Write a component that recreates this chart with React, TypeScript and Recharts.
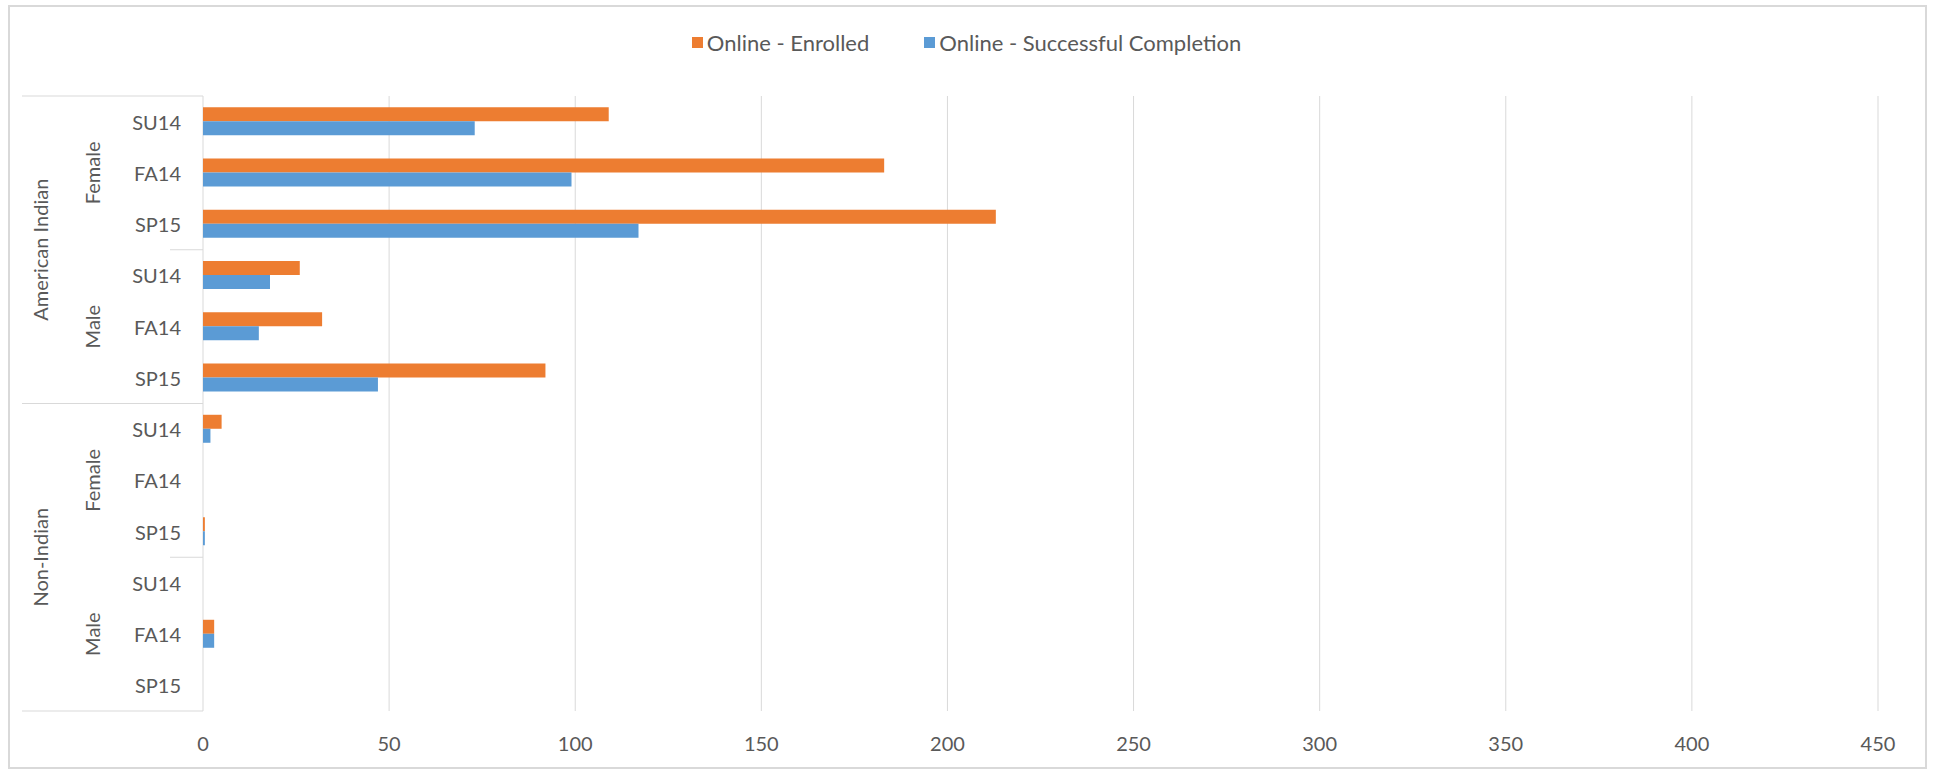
import { BarChart, Bar, XAxis, YAxis, CartesianGrid } from "recharts";

const groups = ["American Indian", "Non-Indian"];
const genders = ["Female", "Male"];
const semesters = ["SU14", "FA14", "SP15"];

// one value per row, in the order group > gender > semester
const enrolled = [109, 183, 213, 26, 32, 92, 5, 0, 0.5, 0, 3, 0];
const completed = [73, 99, 117, 18, 15, 47, 2, 0, 0.5, 0, 3, 0];

const xTicks = [0, 50, 100, 150, 200, 250, 300, 350, 400, 450];

const series = [
  { key: "enrolled", name: "Online - Enrolled", color: "#ED7D31" },
  { key: "completed", name: "Online - Successful Completion", color: "#5B9BD5" },
];

const W = 1933;
const H = 770;
const MARGIN = { top: 96, right: 55, bottom: 19, left: 13 };
const Y_AXIS_W = 190;
const X_AXIS_H = 40;
const AXIS_X = MARGIN.left + Y_AXIS_W;
const PLOT_H = H - MARGIN.top - MARGIN.bottom - X_AXIS_H;

const FONT = "Lato, 'Open Sans', sans-serif";
const TEXT = "#595959";
const LINE = "#d9d9d9";

const rows = groups.flatMap((g) =>
  genders.flatMap((s) => semesters.map((t) => ({ group: g, gender: s, semester: t })))
);
const data = rows.map((r, i) => ({
  id: i,
  ...r,
  enrolled: enrolled[i],
  completed: completed[i],
}));

const band = PLOT_H / rows.length;
const perGroup = genders.length * semesters.length;

function CategoryTick(props: any) {
  const { y, payload } = props;
  const i = Number(payload.value);
  const r = rows[i];
  const out: any[] = [];

  if (i % perGroup === 0) {
    out.push(<line key="g" x1={22} x2={AXIS_X} y1={y - band / 2} y2={y - band / 2} stroke={LINE} />);
  } else if (i % semesters.length === 0) {
    out.push(<line key="s" x1={170} x2={AXIS_X} y1={y - band / 2} y2={y - band / 2} stroke={LINE} />);
  }
  if (i === rows.length - 1) {
    out.push(<line key="b" x1={22} x2={AXIS_X} y1={y + band / 2} y2={y + band / 2} stroke={LINE} />);
  }
  // gender label sits on the middle semester row
  if (i % semesters.length === 1) {
    out.push(
      <text key="gl" x={92} y={y} transform={`rotate(-90 92 ${y})`} textAnchor="middle"
        dominantBaseline="central" fill={TEXT} fontSize={20} fontFamily={FONT}>
        {r.gender}
      </text>
    );
  }
  // group label sits between the two gender blocks
  if (i % perGroup === perGroup / 2 - 1) {
    const cy = y + band / 2;
    out.push(
      <text key="el" x={40} y={cy} transform={`rotate(-90 40 ${cy})`} textAnchor="middle"
        dominantBaseline="central" fill={TEXT} fontSize={20} fontFamily={FONT}>
        {r.group}
      </text>
    );
  }
  out.push(
    <text key="t" x={AXIS_X - 22} y={y} textAnchor="end" dominantBaseline="central"
      fill={TEXT} fontSize={20} fontFamily={FONT}>
      {r.semester}
    </text>
  );
  return <g>{out}</g>;
}

export default function App() {
  return (
    <div style={{ position: "absolute", left: 0, top: 0, width: W, height: H, background: "#fff" }}>
      <div
        style={{
          position: "absolute",
          left: 8,
          top: 5,
          width: 1915,
          height: 760,
          border: `2px solid ${LINE}`,
        }}
      />
      <div
        style={{
          position: "absolute",
          top: 29,
          left: 0,
          width: W,
          display: "flex",
          justifyContent: "center",
          gap: 55,
          fontFamily: FONT,
          fontSize: 22,
          color: TEXT,
        }}
      >
        {series.map((s) => (
          <div key={s.key} style={{ display: "flex", alignItems: "center" }}>
            <span style={{ width: 11, height: 11, background: s.color, marginRight: 4 }} />
            <span>{s.name}</span>
          </div>
        ))}
      </div>
      <div style={{ position: "absolute", left: 0, top: 0 }}>
        <BarChart
          width={W}
          height={H}
          data={data}
          layout="vertical"
          margin={MARGIN}
          barCategoryGap="22%"
          barGap={0}
        >
          <CartesianGrid horizontal={false} stroke={LINE} />
          <XAxis
            type="number"
            domain={[0, 450]}
            ticks={xTicks}
            axisLine={false}
            tickLine={false}
            tickSize={0}
            tickMargin={26}
            height={X_AXIS_H}
            tick={{ fill: TEXT, fontSize: 20, fontFamily: FONT }}
          />
          <YAxis
            type="category"
            dataKey="id"
            width={Y_AXIS_W}
            interval={0}
            axisLine={false}
            tickLine={false}
            tick={<CategoryTick />}
          />
          {series.map((s) => (
            <Bar key={s.key} dataKey={s.key} name={s.name} fill={s.color} isAnimationActive={false} />
          ))}
        </BarChart>
      </div>
    </div>
  );
}
